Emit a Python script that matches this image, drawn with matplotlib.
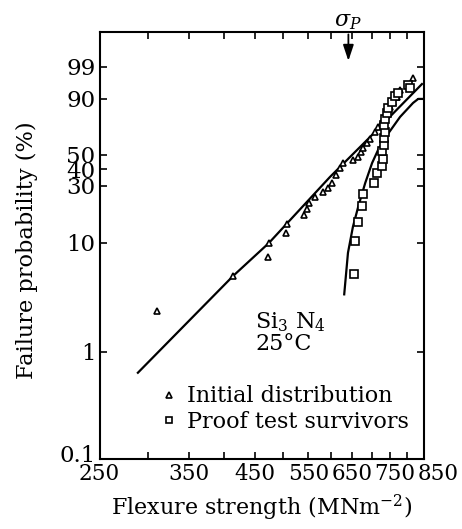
import matplotlib
matplotlib.use("Agg")
import matplotlib.pyplot as plt
import matplotlib.transforms as mtransforms
import numpy as np

# strength (MNm^-2) and failure probability (%)
init_s = [311, 414, 472, 474, 506, 508, 541, 548, 552, 564, 582, 593, 602, 611,
          620, 627, 651, 664, 671, 676, 687, 695, 708, 716, 727, 741, 749, 758,
          769, 778, 817]
init_p = [2.4, 5.0, 7.4, 9.9, 12.1, 14.5, 17.3, 19.5, 21.8, 24.4, 26.8, 28.8,
          31.5, 36.2, 40.7, 44.1, 46.2, 48.4, 52.2, 55.2, 59.1, 62.3, 67.8,
          71.7, 75.4, 81.8, 85.6, 88.4, 90.9, 93.9, 97.3]

proof_s = [654, 656, 664, 674, 676, 705, 713, 727, 730, 727, 732, 732, 735,
           732, 735, 741, 743, 755, 763, 772, 802, 808]
proof_p = [5.2, 10.3, 15.1, 20.6, 25.8, 31.5, 37.4, 42.1, 46.9, 52.9, 57.5,
           63.0, 67.8, 73.2, 77.6, 81.8, 85.0, 88.4, 91.4, 92.7, 95.5, 94.6]

# fitted curves
fit1_s = [289, 414, 474, 597, 687, 845]
fit1_p = [0.64, 5.0, 9.9, 35.0, 61.5, 95.8]
fit2_s = [630, 639, 651, 664, 682, 700, 716, 741, 778, 817, 833, 845]
fit2_p = [3.4, 8.1, 13.7, 20.2, 31.5, 44.1, 53.7, 65.4, 79.1, 87.9, 90.0, 90.0]

x_ticks = [250, 300, 350, 400, 450, 500, 550, 600, 650, 700, 750, 800, 850]
y_ticks = [0.1, 1, 10, 30, 40, 50, 90, 99]
sigma_p = 640


def weib(p):
    p = np.asarray(p, dtype=float)
    with np.errstate(all="ignore"):
        return np.log(-np.log(1 - p / 100.0))


def weib_inv(w):
    w = np.asarray(w, dtype=float)
    return 100.0 * (1 - np.exp(-np.exp(w)))


plt.rcParams["font.family"] = ["DejaVu Serif"]
plt.rcParams["mathtext.fontset"] = "dejavuserif"
plt.rcParams["font.size"] = 16

fig = plt.figure(figsize=(4.62, 5.29), dpi=100)
ax = fig.add_axes([0.2154, 0.1318, 0.7013, 0.8072])

ax.plot(fit1_s, fit1_p, color="black", lw=1.6)
ax.plot(fit2_s, fit2_p, color="black", lw=1.6)
ax.plot(init_s, init_p, linestyle="none", marker="^", ms=5, mfc="white",
        mec="black", mew=1.2, label="Initial distribution")
ax.plot(proof_s, proof_p, linestyle="none", marker="s", ms=5.5, mfc="white",
        mec="black", mew=1.2, label="Proof test survivors")

ax.set_xscale("log")
ax.set_yscale("function", functions=(weib, weib_inv))
ax.set_xlim(250, 850)
ax.set_ylim(0.1, 99.9935)

ax.set_xticks(x_ticks)
ax.set_xticklabels([str(v) if i % 2 == 0 else "" for i, v in enumerate(x_ticks)])
ax.xaxis.set_minor_locator(matplotlib.ticker.NullLocator())
ax.set_yticks(y_ticks)
ax.set_yticklabels([str(v) for v in y_ticks])
ax.yaxis.set_minor_locator(matplotlib.ticker.NullLocator())
ax.tick_params(direction="in", top=True, right=True, length=5, width=1.2,
               pad=3)
ax.tick_params(axis="x", labelsize=15.5)
ax.tick_params(axis="y", labelsize=16.5)
for s in ax.spines.values():
    s.set_linewidth(1.5)

# crowded labels at the right end are nudged like in the original
shifts = {"750": 4, "850": 15}
for lab in ax.get_xticklabels():
    dx = shifts.get(lab.get_text(), 0)
    if dx:
        lab.set_transform(lab.get_transform() + mtransforms.ScaledTranslation(
            dx / 100, 0, fig.dpi_scale_trans))
for lab in ax.get_yticklabels():
    if lab.get_text() == "0.1":
        lab.set_transform(lab.get_transform() + mtransforms.ScaledTranslation(
            0, 6 / 100, fig.dpi_scale_trans))

ax.set_xlabel("Flexure strength (MNm$^{-2}$)", fontsize=16, labelpad=5)
ax.set_ylabel("Failure probability (%)", fontsize=16.2)
ax.yaxis.set_label_coords(-0.19, 0.49)

ax.text(0.48, 0.307, "Si$_3$ N$_4$", transform=ax.transAxes, fontsize=16)
ax.text(0.48, 0.256, "25°C", transform=ax.transAxes, fontsize=16)

ax.annotate("", xy=(sigma_p, 0.933), xycoords=("data", "axes fraction"),
            xytext=(sigma_p, 0.995), textcoords=("data", "axes fraction"),
            arrowprops=dict(arrowstyle="-|>,head_length=0.6,head_width=0.2",
                            color="black", lw=1.3, shrinkA=0, shrinkB=0))
ax.text(sigma_p, 1.0, r"$\sigma_P$", transform=ax.get_xaxis_transform(),
        ha="center", va="bottom", fontsize=16)

ax.legend(loc="lower right", bbox_to_anchor=(0.955, 0.062), frameon=False,
          fontsize=16, handlelength=0.6, handletextpad=0.5, markerscale=0.8,
          borderaxespad=0, borderpad=0, labelspacing=0.15)

fig.savefig("out.png", dpi=100)
